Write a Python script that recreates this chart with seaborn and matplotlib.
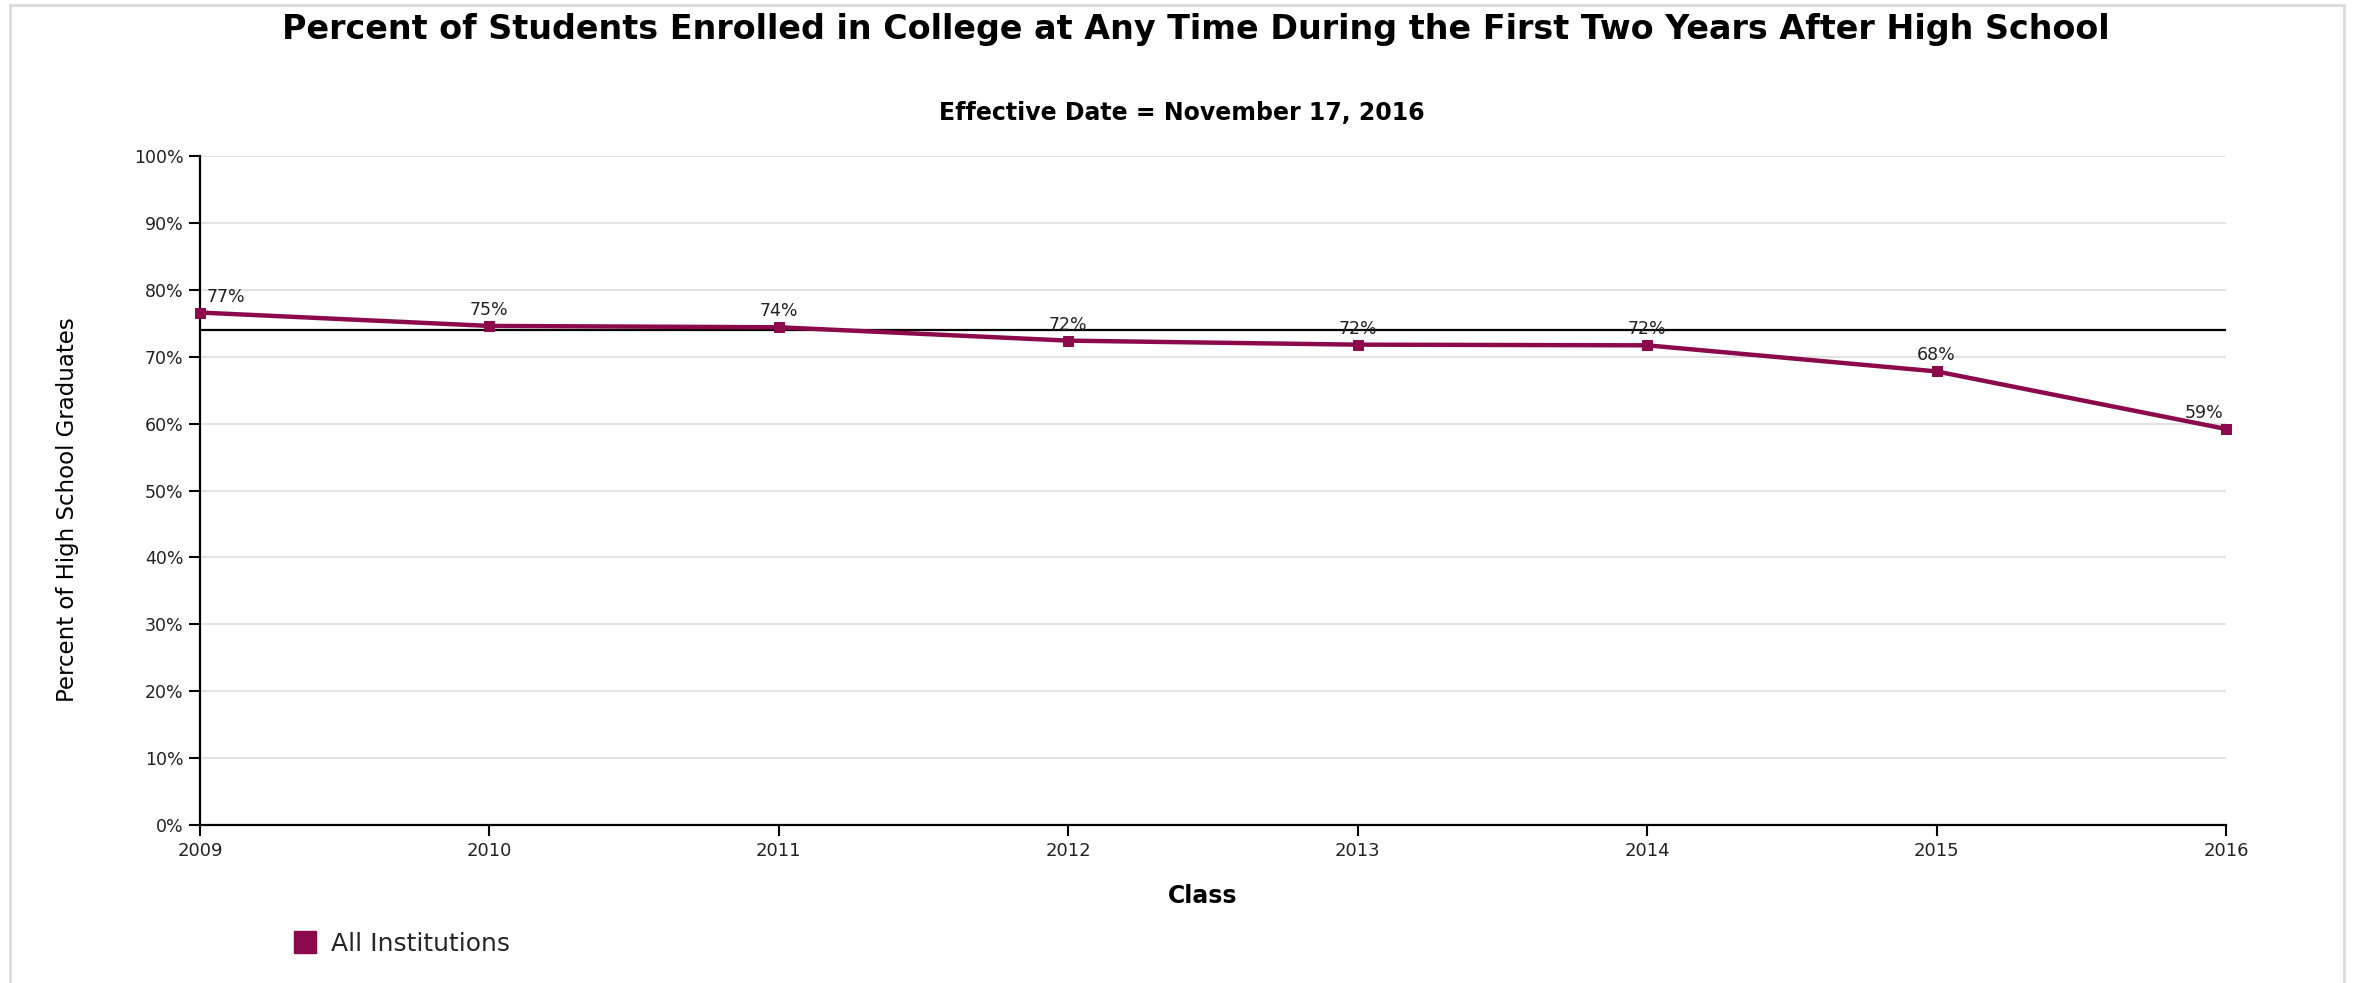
import matplotlib
matplotlib.use("Agg")
import matplotlib.pyplot as plt
import matplotlib.patches as mpatches
from matplotlib.lines import Line2D
import seaborn as sns
import pandas as pd

# ---- data ----
years = [2009, 2010, 2011, 2012, 2013, 2014, 2015, 2016]
pct = [76.6, 74.6, 74.4, 72.4, 71.8, 71.7, 67.8, 59.2]
labels = ["77%", "75%", "74%", "72%", "72%", "72%", "68%", "59%"]
reference_value = 74.0
y_ticks = [0, 10, 20, 30, 40, 50, 60, 70, 80, 90, 100]
series_name = "All Institutions"

title = "Percent of Students Enrolled in College at Any Time During the First Two Years After High School"
subtitle = "Effective Date = November 17, 2016"
xlabel = "Class"
ylabel = "Percent of High School Graduates"

color = "#8c0a4b"

sns.set_theme(style="white")
plt.rcParams["font.family"] = ["DejaVu Sans"]

W, H = 2357, 983
fig = plt.figure(figsize=(W / 100, H / 100), dpi=100)
fig.patch.set_facecolor("white")

# light frame around figure
frame = mpatches.Rectangle((10 / W, -0.1), (2344 - 10) / W, 1.1 - 5 / H,
                           transform=fig.transFigure, fill=False,
                           edgecolor="#dcdcdc", linewidth=2)
fig.patches.append(frame)

left, right, top, bottom = 200, 2226, 156, 825
ax = fig.add_axes([left / W, 1 - bottom / H, (right - left) / W, (bottom - top) / H])

df = pd.DataFrame({"Class": years, "Percent": pct})

# gridlines
ax.set_yticks(y_ticks)
ax.yaxis.grid(True, color="#dddddd", linewidth=1.2)
ax.xaxis.grid(False)
ax.set_axisbelow(True)

# reference line
ax.axhline(reference_value, color="black", linewidth=1.6, zorder=2)

sns.lineplot(data=df, x="Class", y="Percent", ax=ax, color=color,
             linewidth=3.2, marker="s", markersize=7, markeredgecolor=color,
             zorder=3, clip_on=False)

# data labels
for i, (x, y, t) in enumerate(zip(years, pct, labels)):
    ha = "center"
    dx = 0
    if i == 0:
        ha, dx = "left", 5
    elif i == len(years) - 1:
        ha, dx = "right", -2
    ax.annotate(t, (x, y), xytext=(dx, 5), textcoords="offset points",
                ha=ha, va="bottom", fontsize=12.5, color="#222222", zorder=4)

ax.set_xlim(years[0], years[-1])
ax.set_ylim(0, 100)
ax.set_xticks(years)
ax.set_xticklabels([str(y) for y in years], fontsize=13, color="#222222")
ax.set_yticklabels([f"{v}%" for v in y_ticks], fontsize=12.5, color="#222222")
ax.tick_params(axis="both", which="both", direction="out", length=8, width=1.5,
               color="black", left=True, bottom=True)
ax.tick_params(axis="x", pad=4)
ax.tick_params(axis="y", pad=4)

for s in ["top", "right"]:
    ax.spines[s].set_visible(False)
for s in ["left", "bottom"]:
    ax.spines[s].set_color("black")
    ax.spines[s].set_linewidth(1.6)

ax.set_xlabel("")
ax.set_ylabel("")

fig.text(1196 / W, 1 - 30 / H, title, ha="center", va="center",
         fontsize=24, fontweight="bold", color="black")
fig.text(1182 / W, 1 - 113 / H, subtitle, ha="center", va="center",
         fontsize=17, fontweight="bold", color="black")
fig.text(1203 / W, 1 - 896 / H, xlabel, ha="center", va="center",
         fontsize=17, fontweight="bold", color="black")
fig.text(68 / W, 1 - 510 / H, ylabel, ha="center", va="center", rotation=90,
         fontsize=16.5, color="black")

handle = Line2D([0], [0], marker="s", linestyle="none", markersize=16,
                markerfacecolor=color, markeredgecolor=color)
fig.legend([handle], [series_name], loc="center left",
           bbox_to_anchor=(280 / W, 1 - 944 / H), frameon=False,
           fontsize=18, handletextpad=0.05, borderaxespad=0, borderpad=0)

fig.savefig("out.png", dpi=100, facecolor="white")
